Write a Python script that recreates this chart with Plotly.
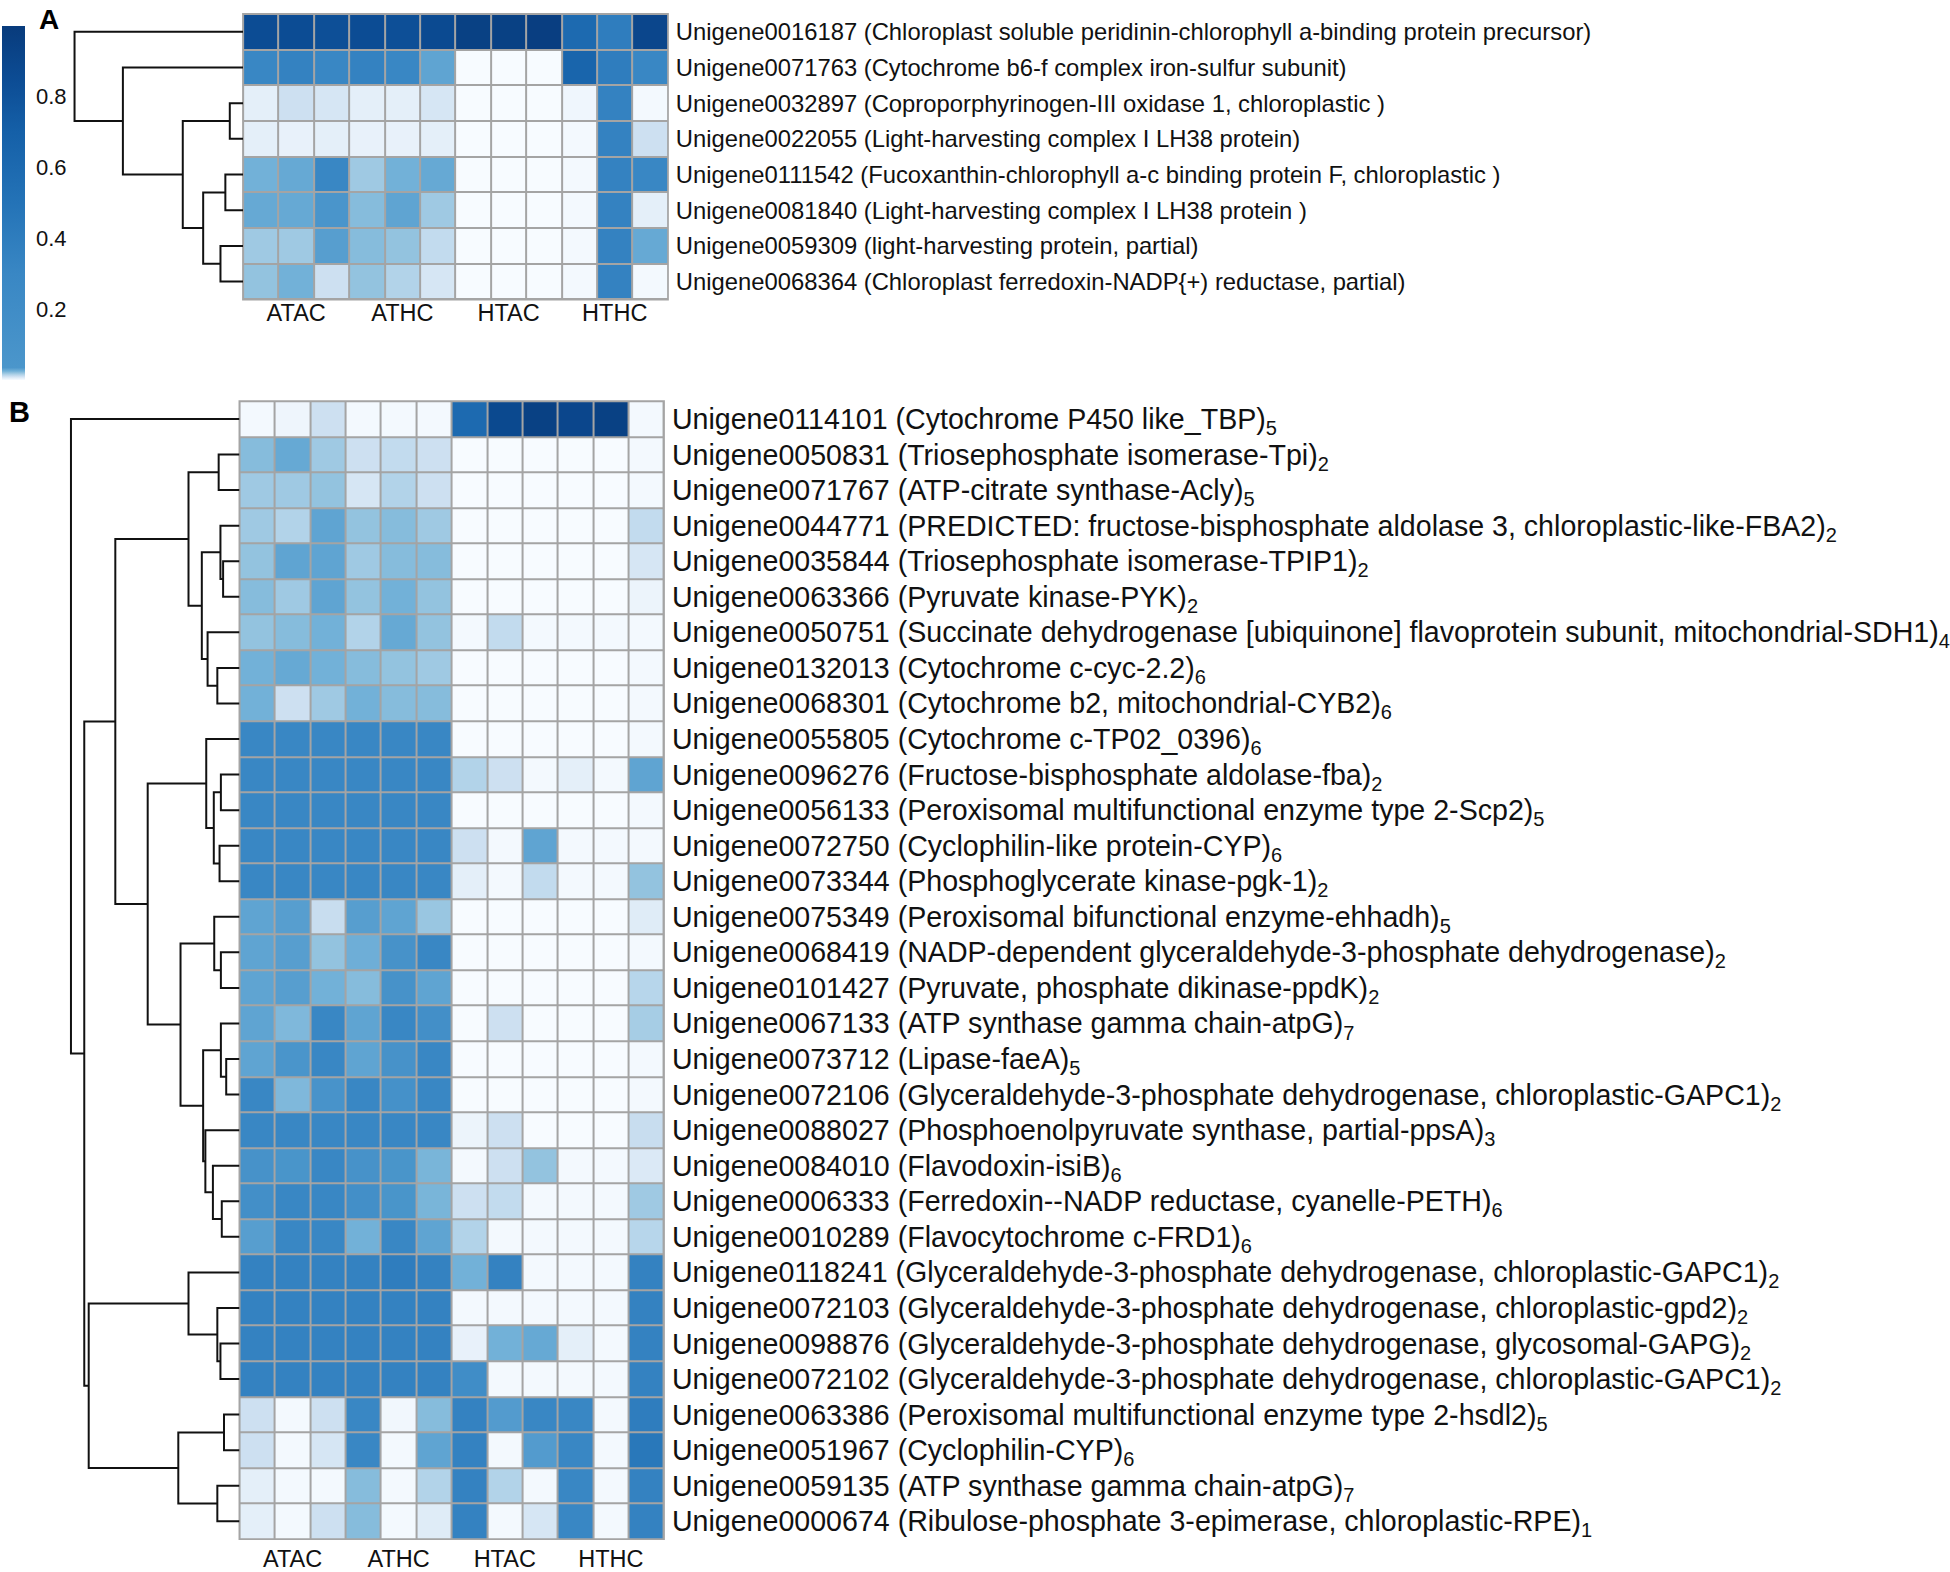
import plotly.graph_objects as go

# ---- data ---------------------------------------------------------------
groups = ["ATAC", "ATHC", "HTAC", "HTHC"]
group_centers = [1, 4, 7, 10]          # middle replicate of each group of 3
n_cols = 12

# Panel A: photosynthesis genes
genes_a = ["Unigene0016187", "Unigene0071763", "Unigene0032897", "Unigene0022055",
           "Unigene0111542", "Unigene0081840", "Unigene0059309", "Unigene0068364"]
desc_a = ["Chloroplast soluble peridinin-chlorophyll a-binding protein precursor",
          "Cytochrome b6-f complex iron-sulfur subunit",
          "Coproporphyrinogen-III oxidase 1, chloroplastic ",
          "Light-harvesting complex I LH38 protein",
          "Fucoxanthin-chlorophyll a-c binding protein F, chloroplastic ",
          "Light-harvesting complex I LH38 protein ",
          "light-harvesting protein, partial",
          "Chloroplast ferredoxin-NADP{+) reductase, partial"]
values_a = [
    [0.85, 0.85, 0.83, 0.85, 0.83, 0.87, 0.95, 0.95, 0.97, 0.60, 0.40, 0.90],
    [0.30, 0.35, 0.30, 0.35, 0.30, 0.030, 0, 0, 0, 0.65, 0.40, 0.30],
    [0.005, 0.010, 0.008, 0.005, 0.005, 0.008, 0, 0, 0, 0.002, 0.35, 0.001],
    [0.005, 0.004, 0.005, 0.004, 0.004, 0.005, 0, 0, 0, 0.001, 0.35, 0.010],
    [0.025, 0.028, 0.30, 0.018, 0.025, 0.028, 0, 0, 0, 0.001, 0.35, 0.30],
    [0.028, 0.028, 0.045, 0.022, 0.030, 0.018, 0, 0, 0, 0.001, 0.35, 0.005],
    [0.018, 0.018, 0.032, 0.022, 0.020, 0.012, 0, 0, 0, 0.001, 0.35, 0.028],
    [0.020, 0.025, 0.010, 0.020, 0.015, 0.008, 0, 0, 0, 0.001, 0.35, 0.001],
]
# dendrogram of panel A rows: (child, child, height); ids >= 8 are earlier merges
merges_a = [(2, 3, 30), (4, 5, 40), (6, 7, 51), (9, 10, 90),
            (8, 11, 136), (1, 12, 271), (0, 13, 380)]

# Panel B: carbon / energy metabolism genes
genes_b = ["Unigene0114101", "Unigene0050831", "Unigene0071767", "Unigene0044771",
           "Unigene0035844", "Unigene0063366", "Unigene0050751", "Unigene0132013",
           "Unigene0068301", "Unigene0055805", "Unigene0096276", "Unigene0056133",
           "Unigene0072750", "Unigene0073344", "Unigene0075349", "Unigene0068419",
           "Unigene0101427", "Unigene0067133", "Unigene0073712", "Unigene0072106",
           "Unigene0088027", "Unigene0084010", "Unigene0006333", "Unigene0010289",
           "Unigene0118241", "Unigene0072103", "Unigene0098876", "Unigene0072102",
           "Unigene0063386", "Unigene0051967", "Unigene0059135", "Unigene0000674"]
desc_b = ["Cytochrome P450 like_TBP",
          "Triosephosphate isomerase-Tpi",
          "ATP-citrate synthase-Acly",
          "PREDICTED: fructose-bisphosphate aldolase 3, chloroplastic-like-FBA2",
          "Triosephosphate isomerase-TPIP1",
          "Pyruvate kinase-PYK",
          "Succinate dehydrogenase [ubiquinone] flavoprotein subunit, mitochondrial-SDH1",
          "Cytochrome c-cyc-2.2",
          "Cytochrome b2, mitochondrial-CYB2",
          "Cytochrome c-TP02_0396",
          "Fructose-bisphosphate aldolase-fba",
          "Peroxisomal multifunctional enzyme type 2-Scp2",
          "Cyclophilin-like protein-CYP",
          "Phosphoglycerate kinase-pgk-1",
          "Peroxisomal bifunctional enzyme-ehhadh",
          "NADP-dependent glyceraldehyde-3-phosphate dehydrogenase",
          "Pyruvate, phosphate dikinase-ppdK",
          "ATP synthase gamma chain-atpG",
          "Lipase-faeA",
          "Glyceraldehyde-3-phosphate dehydrogenase, chloroplastic-GAPC1",
          "Phosphoenolpyruvate synthase, partial-ppsA",
          "Flavodoxin-isiB",
          "Ferredoxin--NADP reductase, cyanelle-PETH",
          "Flavocytochrome c-FRD1",
          "Glyceraldehyde-3-phosphate dehydrogenase, chloroplastic-GAPC1",
          "Glyceraldehyde-3-phosphate dehydrogenase, chloroplastic-gpd2",
          "Glyceraldehyde-3-phosphate dehydrogenase, glycosomal-GAPG",
          "Glyceraldehyde-3-phosphate dehydrogenase, chloroplastic-GAPC1",
          "Peroxisomal multifunctional enzyme type 2-hsdl2",
          "Cyclophilin-CYP",
          "ATP synthase gamma chain-atpG",
          "Ribulose-phosphate 3-epimerase, chloroplastic-RPE"]
pathway_b = [5, 2, 5, 2, 2, 2, 4, 6, 6, 6, 2, 5, 6, 2, 5, 2,
             2, 7, 5, 2, 3, 6, 6, 6, 2, 2, 2, 2, 5, 6, 7, 1]
values_b = [
    [0.001, 0.0025, 0.010, 0.001, 0.001, 0.001, 0.60, 0.88, 0.95, 0.90, 0.95, 0.001],
    [0.022, 0.028, 0.018, 0.010, 0.012, 0.010, 0, 0, 0, 0, 0, 0.001],
    [0.018, 0.018, 0.020, 0.008, 0.015, 0.010, 0, 0, 0, 0, 0, 0.001],
    [0.018, 0.015, 0.030, 0.020, 0.022, 0.018, 0, 0, 0, 0, 0, 0.012],
    [0.020, 0.030, 0.030, 0.018, 0.022, 0.022, 0, 0, 0, 0, 0, 0.008],
    [0.022, 0.018, 0.030, 0.020, 0.025, 0.020, 0, 0, 0, 0, 0, 0.003],
    [0.020, 0.022, 0.025, 0.015, 0.028, 0.020, 0.001, 0.012, 0.001, 0.001, 0.001, 0.001],
    [0.025, 0.028, 0.025, 0.022, 0.020, 0.018, 0, 0, 0, 0, 0, 0.001],
    [0.025, 0.010, 0.018, 0.025, 0.022, 0.022, 0, 0, 0, 0, 0, 0.001],
    [0.30, 0.30, 0.30, 0.30, 0.30, 0.30, 0, 0, 0, 0, 0, 0.001],
    [0.30, 0.30, 0.30, 0.30, 0.30, 0.30, 0.015, 0.010, 0.001, 0.005, 0.001, 0.030],
    [0.30, 0.30, 0.30, 0.30, 0.30, 0.30, 0, 0, 0, 0, 0, 0.001],
    [0.30, 0.30, 0.30, 0.30, 0.30, 0.30, 0.010, 0.001, 0.030, 0.001, 0.001, 0.001],
    [0.30, 0.30, 0.30, 0.30, 0.30, 0.30, 0.005, 0.001, 0.012, 0.001, 0.001, 0.020],
    [0.030, 0.032, 0.011, 0.032, 0.030, 0.019, 0, 0, 0, 0, 0, 0.006],
    [0.030, 0.032, 0.020, 0.026, 0.10, 0.30, 0, 0, 0, 0, 0, 0.001],
    [0.030, 0.032, 0.025, 0.022, 0.10, 0.030, 0, 0, 0, 0, 0, 0.014],
    [0.030, 0.023, 0.30, 0.030, 0.30, 0.15, 0, 0.010, 0, 0, 0, 0.017],
    [0.030, 0.05, 0.30, 0.030, 0.10, 0.30, 0, 0, 0, 0, 0, 0.001],
    [0.30, 0.023, 0.08, 0.30, 0.12, 0.30, 0, 0, 0, 0, 0, 0.001],
    [0.30, 0.30, 0.30, 0.30, 0.30, 0.30, 0.003, 0.010, 0, 0, 0, 0.011],
    [0.10, 0.06, 0.30, 0.10, 0.06, 0.024, 0.001, 0.010, 0.020, 0.001, 0.001, 0.007],
    [0.15, 0.30, 0.30, 0.15, 0.06, 0.024, 0.010, 0.012, 0.001, 0.001, 0.001, 0.018],
    [0.032, 0.30, 0.30, 0.025, 0.30, 0.030, 0.015, 0.001, 0.001, 0.001, 0.001, 0.014],
    [0.35, 0.35, 0.35, 0.35, 0.40, 0.35, 0.025, 0.35, 0.001, 0.001, 0.001, 0.35],
    [0.35, 0.35, 0.35, 0.35, 0.35, 0.35, 0.001, 0.001, 0.001, 0.001, 0.001, 0.35],
    [0.35, 0.35, 0.35, 0.35, 0.35, 0.35, 0.004, 0.025, 0.028, 0.005, 0.001, 0.35],
    [0.35, 0.35, 0.35, 0.35, 0.35, 0.35, 0.20, 0.001, 0.001, 0.001, 0.001, 0.35],
    [0.010, 0.001, 0.010, 0.30, 0.0015, 0.022, 0.35, 0.033, 0.30, 0.30, 0.001, 0.40],
    [0.010, 0.001, 0.008, 0.30, 0.001, 0.030, 0.35, 0.001, 0.033, 0.30, 0.001, 0.45],
    [0.005, 0.001, 0.001, 0.022, 0.001, 0.015, 0.35, 0.015, 0.001, 0.30, 0.001, 0.35],
    [0.005, 0.001, 0.010, 0.022, 0.001, 0.006, 0.35, 0.001, 0.008, 0.30, 0.001, 0.35],
]
# dendrogram of panel B rows; ids >= 32 are earlier merges
merges_b = [(1, 2, 47), (4, 5, 37), (3, 33, 43), (7, 8, 50), (6, 35, 72),
            (34, 36, 85), (32, 37, 115), (10, 11, 42), (12, 13, 45), (39, 40, 58),
            (9, 41, 75), (15, 16, 42), (14, 43, 57), (18, 19, 30), (17, 45, 42),
            (22, 23, 40), (21, 47, 60), (20, 48, 77), (46, 49, 82), (44, 50, 133),
            (42, 51, 207), (38, 52, 280), (26, 27, 43), (25, 54, 50), (24, 55, 115),
            (28, 29, 35), (30, 31, 50), (57, 58, 138), (56, 59, 340), (53, 60, 350),
            (0, 61, 380)]

# ---- helpers ------------------------------------------------------------
W, H = 1950, 1572
FONT = "Liberation Sans, Arial, sans-serif"

blues = [[0.0, "#f7fbff"], [0.005, "#e4eff9"], [0.01, "#cde0f1"], [0.015, "#b2d3e9"],
         [0.02, "#93c3df"], [0.025, "#72b1d8"], [0.035, "#4b96cb"], [0.3, "#3987c4"],
         [0.5, "#2473b7"], [0.7, "#1560a8"], [0.85, "#0c4c94"], [1.0, "#083b7c"]]


def dendro_lines(merges, n_leaves):
    pos = {i: (0.0, float(i)) for i in range(n_leaves)}
    xs, ys = [], []
    for k, (a, b, h) in enumerate(merges):
        xa, ya = pos[a]
        xb, yb = pos[b]
        xs += [xa, h, h, xb, None]
        ys += [ya, ya, yb, yb, None]
        pos[n_leaves + k] = (h, (ya + yb) / 2)
    return xs, ys


def hx(px):
    return px / W


def vy(px):
    return 1 - px / H


labels_a = [f"{g} ({d})" for g, d in zip(genes_a, desc_a)]
labels_b = [f"{g} ({d})<sub>{p}</sub>" for g, d, p in zip(genes_b, desc_b, pathway_b)]

# panel geometry in pixels: (heatmap left, right, top, bottom, dendrogram root x)
geo_a = dict(left=244.6, right=672, top=14, bottom=300, root=75)
geo_b = dict(left=241, right=668, top=402, bottom=1542, root=71.4)

fig = go.Figure()

#        heat x, heat y, dendro x, values, tree, labels, geometry, row font, col-label standoff, row standoff
panels = [
    ("x", "y", "x2", values_a, merges_a, labels_a, geo_a, 23.8, -3, 7),
    ("x3", "y3", "x4", values_b, merges_b, labels_b, geo_b, 28.6, 3, 7),
]
for hxa, hya, dxa, vals, merges, labels, g, fs, xstand, ystand in panels:
    n = len(vals)
    fig.add_trace(go.Heatmap(
        z=vals, x=list(range(n_cols)), y=list(range(n)),
        coloraxis="coloraxis", xgap=2, ygap=2,
        xaxis=hxa, yaxis=hya, hoverinfo="skip"
    ))
    dx, dy = dendro_lines(merges, n)
    fig.add_trace(go.Scatter(
        x=dx, y=dy, mode="lines", xaxis=dxa, yaxis=hya,
        line=dict(color="#111111", width=2), hoverinfo="skip"
    ))

    xkey = "xaxis" + hxa[1:]
    ykey = "yaxis" + hya[1:]
    dkey = "xaxis" + dxa[1:]
    fig.layout[xkey] = dict(
        domain=[hx(g["left"]), hx(g["right"])], anchor=hya,
        range=[-0.5, n_cols - 0.5], tickvals=group_centers, ticktext=groups,
        ticks="", showgrid=False, zeroline=False, showline=False,
        tickfont=dict(size=23.5, color="#111111"), ticklabelstandoff=xstand
    )
    fig.layout[ykey] = dict(
        domain=[vy(g["bottom"]), vy(g["top"])], anchor=hxa, side="right",
        range=[n - 0.5, -0.5], tickvals=list(range(n)), ticktext=labels,
        ticks="", showgrid=False, zeroline=False, showline=False,
        tickfont=dict(size=fs, color="#111111"), ticklabelstandoff=ystand
    )
    # dendrogram axis: height 380 sits at the root position, 0 at the heatmap edge
    pad = 12
    top_h = 380
    span = g["left"] - g["root"]
    fig.layout[dkey] = dict(
        domain=[hx(g["root"] - pad), hx(g["left"])], anchor=hya,
        range=[top_h * (span + pad) / span, 0], visible=False
    )
    # grey cell borders behind the heatmap bricks
    fig.add_shape(type="rect", xref=hxa + " domain", yref=hya + " domain",
                  x0=0, x1=1, y0=0, y1=1, layer="below",
                  fillcolor="#a4a4a4", line=dict(color="#a4a4a4", width=2))

fig.add_annotation(text="<b>A</b>", x=hx(49.5), y=vy(20), xref="paper", yref="paper",
                   xanchor="center", yanchor="middle",
                   showarrow=False, font=dict(size=28, color="black"))
fig.add_annotation(text="<b>B</b>", x=hx(19.5), y=vy(413), xref="paper", yref="paper",
                   xanchor="center", yanchor="middle",
                   showarrow=False, font=dict(size=29, color="black"))

fig.update_layout(
    width=W, height=H,
    margin=dict(l=0, r=0, t=0, b=0),
    paper_bgcolor="white", plot_bgcolor="white",
    font=dict(family=FONT, color="#111111"),
    showlegend=False,
    coloraxis=dict(
        cmin=0, cmax=1, colorscale=blues,
        colorbar=dict(
            x=hx(1.7), xanchor="left", xpad=0,
            y=vy(26), yanchor="top", ypad=0,
            len=354, lenmode="pixels", thickness=23,
            outlinewidth=0, ticks="outside", ticklen=7, tickcolor="rgba(0,0,0,0)",
            tickvals=[0.2, 0.4, 0.6, 0.8],
            tickfont=dict(size=22, color="#111111")
        )
    )
)

# the page body has a default 8px margin; drop it so the figure sits at the corner
fig.write_html("out.html", config={"displayModeBar": False},
               post_script="document.body.style.margin='0px';")
